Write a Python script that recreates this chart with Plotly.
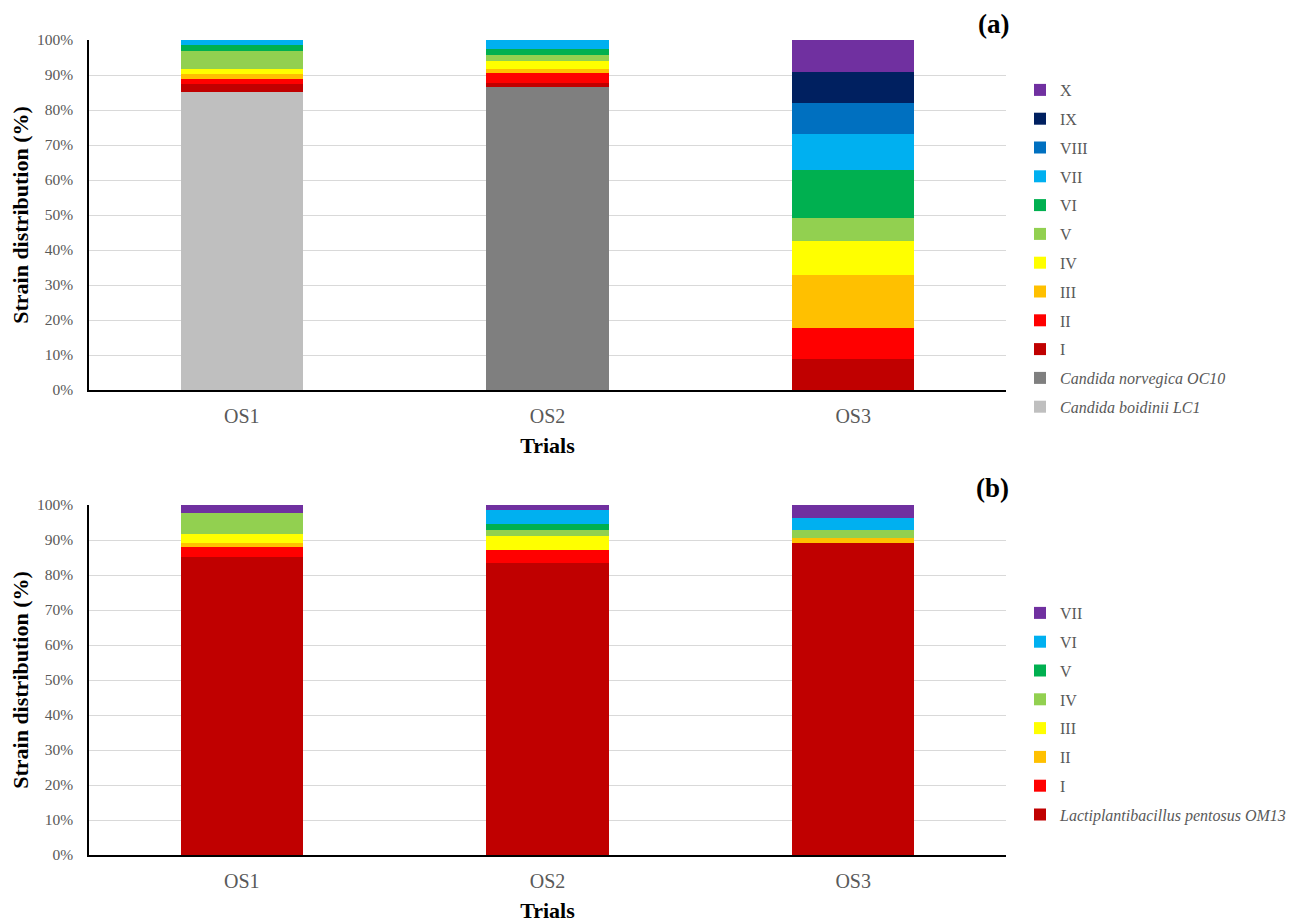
import plotly.graph_objects as go

trials = ["OS1", "OS2", "OS3"]

# Panel (a) - yeasts (values in %)
a_names = ["<i>Candida boidinii LC1</i>", "<i>Candida norvegica OC10</i>",
           "I", "II", "III", "IV", "V", "VI", "VII", "VIII", "IX", "X"]
a_colors = ["#bfbfbf", "#7f7f7f", "#c00000", "#ff0000", "#ffc000", "#ffff00",
            "#92d050", "#00b050", "#00b0f0", "#0070c0", "#002060", "#7030a0"]
a_boidinii = [85.1, 0, 0]
a_norvegica = [0, 86.5, 0]
a_I = [2.2, 1.1, 8.8]
a_II = [1.6, 3.1, 8.9]
a_III = [1.4, 1.1, 15.2]
a_IV = [1.5, 2.2, 9.7]
a_V = [5.1, 1.6, 6.5]
a_VI = [1.6, 1.7, 13.7]
a_VII = [1.5, 2.7, 10.3]
a_VIII = [0, 0, 9.0]
a_IX = [0, 0, 8.8]
a_X = [0, 0, 9.1]
a_values = [a_boidinii, a_norvegica, a_I, a_II, a_III, a_IV, a_V, a_VI,
            a_VII, a_VIII, a_IX, a_X]

# Panel (b) - lactic acid bacteria (values in %)
b_names = ["<i>Lactiplantibacillus pentosus OM13</i>", "I", "II", "III", "IV",
           "V", "VI", "VII"]
b_colors = ["#c00000", "#ff0000", "#ffc000", "#ffff00", "#92d050", "#00b050",
            "#00b0f0", "#7030a0"]
b_OM13 = [85.2, 83.5, 89.2]
b_I = [2.9, 3.6, 0]
b_II = [1.1, 0, 1.3]
b_III = [2.4, 4.1, 0]
b_IV = [6.0, 1.7, 2.4]
b_V = [0, 1.8, 0]
b_VI = [0, 4.0, 3.5]
b_VII = [2.4, 1.3, 3.6]
b_values = [b_OM13, b_I, b_II, b_III, b_IV, b_V, b_VI, b_VII]

FONT = "Liberation Serif, Times New Roman, serif"
GRAY = "#595959"

fig = go.Figure()
for i, (n, c, v) in enumerate(zip(a_names, a_colors, a_values)):
    fig.add_trace(go.Bar(x=trials, y=v, name=n, marker=dict(color=c, line=dict(width=0)),
                         xaxis="x", yaxis="y", legend="legend", legendgroup="a%d" % i,
                         legendrank=1000 - i))
for i, (n, c, v) in enumerate(zip(b_names, b_colors, b_values)):
    fig.add_trace(go.Bar(x=trials, y=v, name=n, marker=dict(color=c, line=dict(width=0)),
                         xaxis="x2", yaxis="y2", legend="legend2", legendgroup="b%d" % i,
                         legendrank=1000 - i))

OFF = 8  # page body margin
FW, FH = 1298 - OFF, 924 - OFF
# plot area in page px
PL, PR, PT, PB = 89, 1006, 40, 855
L, R, T, B = PL - OFF, PR - OFF, PT - OFF, PB - OFF
H = B - T
W = R - L
top_dom = [(PB - 390) / H, 1.0]
bot_dom = [0.0, (PB - 505) / H]


def py(page_y):
    return (B - (page_y - OFF)) / H


def px(page_x):
    return ((page_x - OFF) - L) / W


xcommon = dict(showline=True, linecolor="black", linewidth=1.5, automargin=False,
               ticks="outside", ticklen=7, tickcolor="rgba(0,0,0,0)",
               tickfont=dict(family=FONT, size=20, color=GRAY),
               title=dict(text="<b>Trials</b>", font=dict(family=FONT, size=22, color="black"), standoff=12))
ycommon = dict(range=[0, 100], dtick=10, ticksuffix="%", showline=True, linecolor="black",
               linewidth=1.5, showgrid=True, gridcolor="#d9d9d9", gridwidth=1, zeroline=False,
               automargin=False, ticks="outside", ticklen=11, tickcolor="rgba(0,0,0,0)",
               tickfont=dict(family=FONT, size=15.5, color=GRAY),
               title=dict(text="<b>Strain distribution (%)</b>", font=dict(family=FONT, size=22, color="black"), standoff=9))

legcommon = dict(traceorder="grouped", tracegroupgap=5, bgcolor="rgba(0,0,0,0)",
                 font=dict(family=FONT, size=16, color=GRAY), xanchor="left", yanchor="top",
                 itemclick=False, itemdoubleclick=False)

fig.update_layout(
    width=FW, height=FH,
    margin=dict(l=L, r=FW - R, t=T, b=FH - B, autoexpand=False),
    paper_bgcolor="white", plot_bgcolor="white",
    barmode="stack", bargap=0.6,
    showlegend=True,
    xaxis=dict(domain=[0, 1], anchor="y", **xcommon),
    yaxis=dict(domain=top_dom, anchor="x", **ycommon),
    xaxis2=dict(domain=[0, 1], anchor="y2", **xcommon),
    yaxis2=dict(domain=bot_dom, anchor="x2", **ycommon),
    legend=dict(x=px(1020), y=py(73), **legcommon),
    legend2=dict(x=px(1020), y=py(596), **legcommon),
    annotations=[
        dict(text="<b>(a)</b>", x=px(1011), y=py(24), xref="paper", yref="paper",
             xanchor="right", yanchor="middle", showarrow=False,
             font=dict(family=FONT, size=27, color="black")),
        dict(text="<b>(b)</b>", x=px(1011), y=py(488), xref="paper", yref="paper",
             xanchor="right", yanchor="middle", showarrow=False,
             font=dict(family=FONT, size=27, color="black")),
    ],
)

fig.write_html("out.html")
